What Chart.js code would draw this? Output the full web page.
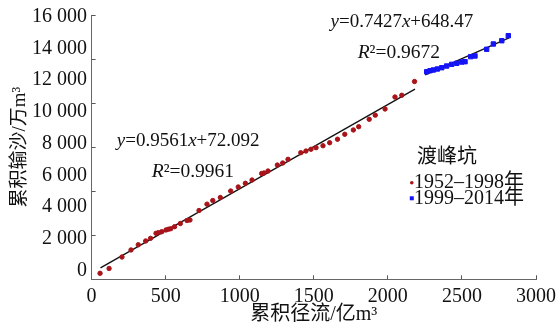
<!DOCTYPE html>
<html><head><meta charset="utf-8">
<script src="https://cdn.jsdelivr.net/npm/chart.js@4/dist/chart.umd.min.js"></script>
<style>html,body{margin:0;padding:0;background:#fff}#wrap{width:558px;height:327px}</style>
</head><body><div id="wrap"><canvas id="c" width="558" height="327"></canvas></div>
<script>
// ---- data (cumulative runoff x, cumulative sediment y) ----
const redX = [57,118,205,266,315,365,398,435,450,473,502,518,534,560,599,644,664,725,779,818,869,939,990,1038,1083,1148,1164,1191,1254,1290,1326,1412,1447,1481,1515,1562,1607,1660,1709,1767,1803,1874,1915,1981,2048,2094,2180];
const redY = [68,123,253,333,392,435,465,522,529,540,560,568,574,597,633,667,673,781,853,894,928,1002,1048,1090,1127,1201,1207,1229,1297,1320,1362,1437,1456,1476,1494,1516,1550,1590,1646,1695,1732,1816,1863,1933,2069,2089,2245];
const blueX = [2262,2285,2307,2334,2364,2397,2431,2465,2499,2521,2559,2588,2667,2712,2769,2813];
const blueY = [2356,2368,2376,2387,2402,2421,2440,2452,2466,2470,2527,2535,2611,2671,2708,2765];
const fitRed = [0.9561, 72.092];   // slope, intercept
const fitBlue = [0.7427, 648.47];
const fitRedRange = [60, 2183];
const fitBlueRange = [2251, 2818];
const xTickValues = [0,500,1000,1500,2000,2500,3000];
const yTickMarkValues = [0,500,1000,1500,2000,2500,3000];
const yTickLabels = ['0','2 000','4 000','6 000','8 000','10 000','12 000','14 000','16 000'];
const yTickLabelNums = [0,2000,4000,6000,8000,10000,12000,14000,16000];
const seriesNames = ['1952–1998年','1999–2014年'];
const stationName = '渡峰坑';

// printed label scale sits offset from the plotting scale in the source figure
const labelToData = v => 97.6 + v * 0.18021;

const SERIF = '"Liberation Serif", "Noto Sans CJK SC", serif';
const RED = '#a8141a', BLUE = '#1414f5';

const pts = (xs, ys) => xs.map((x, i) => ({x, y: ys[i]}));
const fitPts = (f, r) => r.map(x => ({x, y: f[0] * x + f[1]}));

function drawRich(ctx, segs, x, y, size, align) {
  let w = 0;
  segs.forEach(s => { ctx.font = `${s[1]} ${size}px ${SERIF}`; w += ctx.measureText(s[0]).width; });
  let cx = align === 'right' ? x - w : x;
  ctx.textBaseline = 'middle'; ctx.textAlign = 'left'; ctx.fillStyle = '#111';
  segs.forEach(s => { ctx.font = `${s[1]} ${size}px ${SERIF}`; ctx.fillText(s[0], cx, y); cx += ctx.measureText(s[0]).width; });
}

const textPlugin = {
  id: 'texts',
  afterDraw(chart) {
    const ctx = chart.ctx, xs = chart.scales.x, ys = chart.scales.y;
    const P = (x, y) => [xs.getPixelForValue(x), ys.getPixelForValue(y)];
    ctx.save();
    let p = P(170, 1573);
    drawRich(ctx, [['y','italic'],['=0.9561','normal'],['x','italic'],['+72.092','normal']], p[0], p[1], 19, 'left');
    p = P(406, 1221);
    drawRich(ctx, [['R','italic'],['²=0.9961','normal']], p[0], p[1], 19.5, 'left');
    p = P(2577, 2924);
    drawRich(ctx, [['y','italic'],['=0.7427','normal'],['x','italic'],['+648.47','normal']], p[0], p[1], 19, 'right');
    p = P(2352, 2569);
    drawRich(ctx, [['R','italic'],['²=0.9672','normal']], p[0], p[1], 19.5, 'right');
    // legend
    const lg = P(2204, 1377);
    ctx.font = `20px ${SERIF}`; ctx.fillStyle = '#111'; ctx.textBaseline = 'middle'; ctx.textAlign = 'left';
    ctx.fillText(stationName, lg[0] - 1, lg[1]);
    const rows = [[RED, 'circle'], [BLUE, 'rect']];
    rows.forEach((r, i) => {
      const yy = lg[1] + 24.7 + i * 15.6;
      ctx.fillStyle = r[0];
      if (r[1] === 'circle') { ctx.beginPath(); ctx.arc(lg[0] - 6.3, yy, 1.8, 0, Math.PI * 2); ctx.fill(); }
      else ctx.fillRect(lg[0] - 8.3, yy - 2, 4, 4);
      ctx.fillStyle = '#111'; ctx.font = `20px ${SERIF}`;
      ctx.fillText(seriesNames[i], lg[0] - 4.2, yy);
    });
    ctx.restore();
  }
};

new Chart(document.getElementById('c'), {
  type: 'scatter',
  data: {
    datasets: [
      {label: seriesNames[0], data: pts(redX, redY), backgroundColor: RED, borderColor: RED, pointRadius: 2.2, pointHoverRadius: 2.2, order: 1},
      {label: seriesNames[1], data: pts(blueX, blueY), backgroundColor: BLUE, borderColor: BLUE, pointStyle: 'rect', pointRadius: 3.1, pointHoverRadius: 3.1, order: 1},
      {type: 'line', data: fitPts(fitRed, fitRedRange), borderColor: '#111', borderWidth: 1.3, pointRadius: 0, fill: false, order: 2},
      {type: 'line', data: fitPts(fitBlue, fitBlueRange), borderColor: '#111', borderWidth: 1.3, pointRadius: 0, fill: false, order: 2}
    ]
  },
  options: {
    responsive: false, animation: false, devicePixelRatio: 1,
    layout: {padding: {left: 9, right: 22, top: 15, bottom: 0}},
    plugins: {legend: {display: false}, tooltip: {enabled: false}},
    scales: {
      x: {
        type: 'linear', min: 0, max: 3000,
        afterBuildTicks: s => { s.ticks = xTickValues.map(v => ({value: v})); },
        afterFit: s => { s.height = 47.7; s.paddingLeft = 0; s.paddingRight = 0; },
        ticks: {autoSkip: false, maxRotation: 0, padding: 9, color: '#111', font: {family: SERIF, size: 20},
          callback: v => String(v)},
        grid: {drawOnChartArea: false, drawTicks: true, tickLength: -4, tickColor: '#555', tickWidth: 1},
        border: {display: true, color: '#666', width: 1},
        title: {display: true, text: '累积径流/亿m³', color: '#111', font: {family: SERIF, size: 20}, padding: {top: 0, bottom: 0}}
      },
      y: {
        type: 'linear', min: 0, max: 3000,
        afterBuildTicks: s => {
          const t = yTickMarkValues.map(v => ({value: v, txt: '', mark: true}))
            .concat(yTickLabelNums.map((v, i) => ({value: labelToData(v), txt: yTickLabels[i], mark: false})));
          t.sort((a, b) => a.value - b.value);
          s.ticks = t;
        },
        afterFit: s => { s.width = 82.6; s.paddingTop = 0; s.paddingBottom = 0; },
        ticks: {autoSkip: false, padding: 8.6, color: '#111', font: {family: SERIF, size: 20},
          callback: (v, i, t) => t[i].txt},
        grid: {drawOnChartArea: false, drawTicks: true, tickLength: -4, tickWidth: 1,
          tickColor: c => (c.tick && c.tick.mark) ? '#555' : 'rgba(0,0,0,0)'},
        border: {display: true, color: '#666', width: 1},
        title: {display: true, text: '累积输沙/万m³', color: '#111', font: {family: SERIF, size: 19}, padding: {top: 0, bottom: 0}}
      }
    }
  },
  plugins: [textPlugin]
});
</script></body></html>
